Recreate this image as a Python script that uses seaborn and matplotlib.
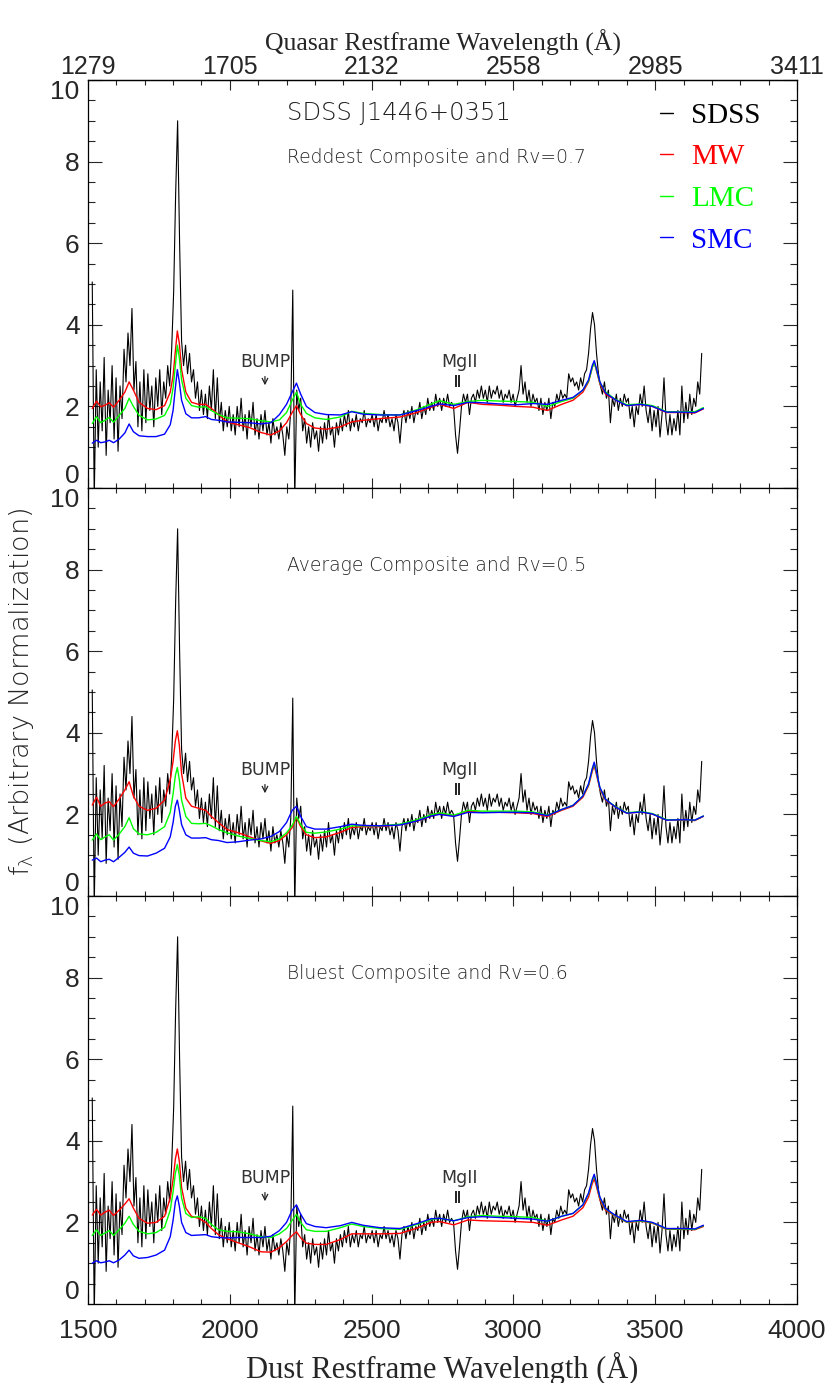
import numpy as np
import pandas as pd
import matplotlib
matplotlib.use("Agg")
import matplotlib.pyplot as plt
from matplotlib.lines import Line2D
from matplotlib.ticker import MultipleLocator
from matplotlib import font_manager
import seaborn as sns

# ---------------- data ----------------
X_TICKS = [1500, 2000, 2500, 3000, 3500, 4000]
TOP_TICK_LABELS = ["1279", "1705", "2132", "2558", "2985", "3411"]
Y_TICKS = [0, 2, 4, 6, 8, 10]

PANEL_TITLES = ["Reddest Composite and Rv=0.7",
                "Average Composite and Rv=0.5",
                "Bluest Composite and Rv=0.6"]
OBJECT_NAME = "SDSS J1446+0351"
LEGEND_LABELS = ["SDSS", "MW", "LMC", "SMC"]
LEGEND_COLORS = ["#000000", "#ff0000", "#00ff00", "#0000ff"]

# SDSS spectrum, sampled on a 7 A pixel grid starting at 1515 A (dust frame)
SDSS_START = 1515
SDSS_STEP = 7
SDSS_FLUX = [
    5.05, -0.3, 2.9, 1.0, 2.6, 1.4, 3.2, 0.8, 2.4, 1.6,
    3.0, 1.2, 2.7, 0.9, 2.5, 1.7, 3.4, 2.6, 3.8, 3.0,
    4.4, 2.4, 3.1, 1.5, 2.6, 1.4, 2.9, 1.6, 2.8, 1.9,
    2.5, 1.5, 2.7, 2.0, 2.9, 1.8, 2.6, 2.2, 3.0, 2.5,
    3.4, 4.8, 7.2, 9.0, 6.0, 3.6, 3.0, 3.5, 2.8, 3.3,
    2.6, 2.9, 2.2, 2.6, 1.9, 2.4, 1.8, 2.3, 1.7, 2.5,
    1.9, 2.9, 1.7, 2.7, 1.6, 2.1, 1.4, 1.9, 1.5, 2.0,
    1.4, 1.8, 1.3, 2.0, 1.5, 2.2, 1.4, 1.8, 1.2, 1.9,
    1.5, 2.1, 1.3, 1.7, 1.2, 1.8, 1.4, 1.9, 1.3, 1.6,
    1.1, 1.7, 1.3, 1.5, 1.2, 1.6, 1.3, 0.8, 1.5, 1.2,
    1.9, 4.85, -0.3, 2.4, 1.9, 2.2, 1.4, 1.7, 1.1, 1.5,
    1.0, 1.6, 1.2, 1.4, 0.9, 1.5, 1.1, 1.6, 1.2, 1.8,
    1.3, 1.5, 1.0, 1.6, 1.3, 1.7, 1.4, 1.8, 1.5, 1.9,
    1.4, 1.7, 1.5, 1.8, 1.4, 1.7, 1.6, 1.9, 1.5, 1.7,
    1.6, 1.8, 1.5, 1.8, 1.4, 1.7, 1.6, 1.9, 1.6, 1.8,
    1.5, 1.7, 1.4, 1.8, 1.6, 1.1, 1.7, 1.9, 1.6, 1.9,
    1.7, 2.0, 1.6, 1.9, 1.8, 2.1, 1.7, 2.0, 1.8, 2.2,
    1.9, 2.1, 1.9, 2.3, 2.0, 2.2, 1.9, 2.2, 2.0, 2.3,
    2.0, 2.1, 2.0, 1.3, 0.85, 1.4, 2.0, 2.3, 2.1, 2.3,
    1.8, 2.2, 2.3, 2.1, 2.4, 2.2, 2.5, 2.2, 2.4, 2.1,
    2.5, 2.2, 2.4, 2.3, 2.5, 2.2, 2.4, 2.1, 2.3, 2.2,
    2.4, 2.1, 2.3, 2.0, 2.2, 2.4, 3.0, 2.3, 2.6, 2.1,
    2.4, 2.0, 2.3, 2.1, 2.2, 1.9, 2.2, 1.8, 2.1, 1.9,
    2.2, 1.7, 2.1, 2.0, 2.3, 2.1, 2.4, 2.2, 2.3, 2.2,
    2.8, 2.6, 2.7, 2.5, 2.6, 2.4, 2.7, 2.5, 2.8, 2.9,
    3.3, 3.9, 4.3, 4.0, 3.3, 2.8, 2.5, 2.3, 2.6, 2.2,
    2.4, 1.6, 2.2, 2.0, 2.3, 1.9, 2.2, 2.0, 2.3, 2.1,
    2.2, 1.7, 2.0, 1.5, 2.0, 1.8, 2.3, 2.0, 2.5, 1.9,
    1.6, 2.0, 1.4, 1.9, 1.5, 2.0, 1.25, 1.8, 2.7, 1.7,
    1.3, 1.8, 1.3, 1.7, 1.4, 1.9, 1.3, 2.5, 1.6, 2.1,
    1.7, 2.3, 1.8, 2.2, 2.0, 2.6, 2.3, 3.3,
]

MODEL_WL = [1515, 1530, 1545, 1560, 1575, 1590, 1610, 1630, 1645, 1660,
            1680, 1710, 1740, 1770, 1790, 1800, 1808, 1815, 1822, 1830,
            1845, 1865, 1890, 1915, 1935, 1960, 1990, 2030, 2070, 2110,
            2145, 2175, 2200, 2220, 2235, 2250, 2270, 2300, 2340, 2390,
            2430, 2470, 2530, 2600, 2660, 2710, 2740, 2790, 2840, 2890,
            2950, 3010, 3070, 3120, 3170, 3210, 3245, 3265, 3278, 3285,
            3292, 3305, 3325, 3360, 3400, 3450, 3490, 3540, 3600, 3640, 3670]

MW_REDDEST = [1.95, 2.13, 1.99, 2.03, 2.09, 1.98, 2.15, 2.35, 2.6, 2.4,
              2.1, 1.95, 1.92, 2.02, 2.35, 2.75, 3.35, 3.85, 3.55, 2.9,
              2.35, 2.1, 2.05, 2.05, 1.95, 1.8, 1.62, 1.55, 1.48, 1.36,
              1.3, 1.4, 1.6, 1.85, 2.02, 1.8, 1.58, 1.47, 1.44, 1.5,
              1.62, 1.66, 1.7, 1.74, 1.85, 1.98, 2.05, 1.95, 2.1, 2.05,
              2.03, 2.0, 1.98, 1.9, 2.05, 2.15, 2.35, 2.6, 2.95, 3.08,
              2.9, 2.55, 2.3, 2.16, 2.02, 2.05, 2.0, 1.85, 1.85, 1.84, 1.94]
LMC_REDDEST = [1.58, 1.75, 1.6, 1.66, 1.73, 1.61, 1.78, 1.95, 2.2, 2.0,
               1.78, 1.67, 1.69, 1.78, 2.05, 2.45, 3.0, 3.5, 3.2, 2.65,
               2.2, 2.02, 1.98, 1.99, 1.9, 1.8, 1.72, 1.71, 1.7, 1.65,
               1.62, 1.67, 1.85, 2.15, 2.35, 2.05, 1.83, 1.72, 1.68, 1.74,
               1.88, 1.83, 1.8, 1.79, 1.92, 2.06, 2.14, 2.05, 2.12, 2.15,
               2.13, 2.12, 2.1, 2.0, 2.12, 2.2, 2.4, 2.62, 2.95, 3.08,
               2.92, 2.58, 2.35, 2.17, 2.04, 2.06, 2.02, 1.87, 1.87, 1.87, 1.97]
SMC_REDDEST = [1.1, 1.17, 1.11, 1.13, 1.17, 1.11, 1.2, 1.35, 1.57, 1.38,
               1.28, 1.26, 1.26, 1.32, 1.55, 1.9, 2.45, 2.9, 2.6, 2.15,
               1.82, 1.72, 1.72, 1.75, 1.68, 1.66, 1.62, 1.61, 1.6, 1.57,
               1.6, 1.8, 2.05, 2.35, 2.57, 2.3, 2.0, 1.85, 1.8, 1.79,
               1.87, 1.81, 1.79, 1.79, 1.9, 2.0, 2.06, 2.02, 2.1, 2.09,
               2.06, 2.04, 2.07, 2.05, 2.15, 2.22, 2.4, 2.65, 3.0, 3.12,
               2.95, 2.6, 2.33, 2.16, 2.02, 2.05, 2.0, 1.86, 1.86, 1.85, 1.95]

MW_AVERAGE = [2.23, 2.42, 2.2, 2.28, 2.31, 2.19, 2.38, 2.6, 2.8, 2.45,
              2.2, 2.1, 2.15, 2.35, 2.85, 3.3, 3.8, 4.05, 3.7, 3.0,
              2.4, 2.2, 2.15, 2.1, 1.95, 1.8, 1.63, 1.55, 1.45, 1.35,
              1.29, 1.36, 1.5, 1.68, 1.92, 1.7, 1.5, 1.43, 1.45, 1.56,
              1.68, 1.7, 1.7, 1.75, 1.84, 1.96, 2.02, 1.96, 2.08, 2.05,
              2.05, 2.04, 2.02, 1.95, 2.1, 2.2, 2.42, 2.7, 3.05, 3.2,
              3.0, 2.62, 2.35, 2.18, 2.03, 2.06, 2.01, 1.86, 1.86, 1.85, 1.95]
LMC_AVERAGE = [1.37, 1.52, 1.38, 1.45, 1.5, 1.37, 1.52, 1.7, 1.92, 1.65,
               1.52, 1.5, 1.56, 1.7, 2.05, 2.5, 2.95, 3.15, 2.85, 2.35,
               1.95, 1.78, 1.77, 1.78, 1.72, 1.63, 1.55, 1.47, 1.41, 1.36,
               1.33, 1.4, 1.55, 1.73, 1.95, 1.75, 1.56, 1.54, 1.57, 1.64,
               1.72, 1.72, 1.72, 1.76, 1.87, 1.99, 2.04, 1.98, 2.1, 2.08,
               2.08, 2.08, 2.06, 1.98, 2.12, 2.22, 2.45, 2.73, 3.1, 3.25,
               3.05, 2.65, 2.37, 2.19, 2.04, 2.07, 2.02, 1.87, 1.87, 1.86, 1.96]
SMC_AVERAGE = [0.88, 0.93, 0.84, 0.88, 0.9, 0.84, 0.95, 1.07, 1.2, 1.05,
               0.99, 0.98, 1.05, 1.17, 1.45, 1.8, 2.2, 2.35, 2.1, 1.75,
               1.5, 1.42, 1.42, 1.43, 1.38, 1.36, 1.31, 1.33, 1.37, 1.4,
               1.46, 1.58, 1.8, 2.1, 2.2, 1.95, 1.7, 1.64, 1.64, 1.7,
               1.76, 1.73, 1.72, 1.74, 1.84, 1.96, 2.0, 1.95, 2.05, 2.04,
               2.05, 2.05, 2.04, 1.97, 2.12, 2.22, 2.45, 2.75, 3.12, 3.28,
               3.07, 2.66, 2.37, 2.18, 2.03, 2.06, 2.01, 1.86, 1.87, 1.86, 1.96]

MW_BLUEST = [2.18, 2.32, 2.18, 2.25, 2.3, 2.17, 2.3, 2.45, 2.58, 2.35,
             2.1, 1.98, 2.0, 2.15, 2.6, 3.05, 3.55, 3.8, 3.5, 2.85,
             2.35, 2.15, 2.1, 2.0, 1.85, 1.7, 1.6, 1.5, 1.4, 1.28,
             1.27, 1.38, 1.53, 1.68, 1.77, 1.62, 1.49, 1.46, 1.46, 1.58,
             1.72, 1.72, 1.72, 1.73, 1.86, 2.0, 2.02, 1.94, 2.06, 2.04,
             2.03, 2.02, 2.0, 1.93, 2.06, 2.15, 2.36, 2.62, 2.95, 3.07,
             2.9, 2.55, 2.3, 2.15, 2.0, 2.03, 1.98, 1.83, 1.83, 1.82, 1.9]
LMC_BLUEST = [1.68, 1.82, 1.68, 1.74, 1.8, 1.68, 1.82, 1.98, 2.15, 1.95,
              1.78, 1.72, 1.75, 1.88, 2.3, 2.75, 3.2, 3.42, 3.15, 2.6,
              2.22, 2.12, 2.14, 2.1, 1.95, 1.82, 1.78, 1.77, 1.72, 1.65,
              1.63, 1.72, 1.85, 2.05, 2.2, 2.0, 1.82, 1.78, 1.78, 1.87,
              1.96, 1.9, 1.85, 1.83, 1.95, 2.07, 2.1, 2.04, 2.14, 2.17,
              2.15, 2.14, 2.12, 2.03, 2.15, 2.22, 2.43, 2.7, 3.02, 3.15,
              2.97, 2.6, 2.33, 2.16, 2.01, 2.04, 1.99, 1.84, 1.84, 1.83, 1.92]
SMC_BLUEST = [1.0, 1.06, 1.01, 1.03, 1.06, 1.01, 1.08, 1.2, 1.32, 1.18,
              1.12, 1.14, 1.2, 1.32, 1.65, 2.05, 2.5, 2.65, 2.4, 2.0,
              1.75, 1.68, 1.69, 1.7, 1.65, 1.63, 1.62, 1.63, 1.63, 1.63,
              1.66, 1.8, 2.0, 2.3, 2.43, 2.2, 1.97, 1.9, 1.87, 1.92,
              2.0, 1.93, 1.87, 1.85, 1.97, 2.09, 2.1, 2.04, 2.12, 2.14,
              2.12, 2.1, 2.08, 2.03, 2.15, 2.22, 2.43, 2.72, 3.05, 3.18,
              2.99, 2.62, 2.34, 2.17, 2.02, 2.05, 2.0, 1.85, 1.85, 1.84, 1.93]

PANEL_MODELS = [
    {"MW": MW_REDDEST, "LMC": LMC_REDDEST, "SMC": SMC_REDDEST},
    {"MW": MW_AVERAGE, "LMC": LMC_AVERAGE, "SMC": SMC_AVERAGE},
    {"MW": MW_BLUEST, "LMC": LMC_BLUEST, "SMC": SMC_BLUEST},
]
MODEL_COLORS = {"MW": "#ff0000", "LMC": "#00ff00", "SMC": "#0000ff"}

BUMP_WL = 2124
MGII_WL = [2799, 2807]

# ---------------- style ----------------
sns.set_style("ticks")
names = {f.name for f in font_manager.fontManager.ttflist}
def pick(cands, default):
    for c in cands:
        if c in names:
            return c
    return default
NARROW = pick(["Liberation Sans Narrow", "DejaVu Sans Condensed"], "Liberation Sans")
SERIF = pick(["Liberation Serif", "DejaVu Serif"], "DejaVu Serif")
SANS = "DejaVu Sans"
plt.rcParams["font.family"] = [SANS]
plt.rcParams["mathtext.default"] = "regular"
plt.rcParams["axes.linewidth"] = 0.9

W, H = 830, 1383
fig = plt.figure(figsize=(W / 100, H / 100), dpi=100)
left_px, right_px = 88, 797
tops = [80, 488, 896]
ph = 408

spec_df = pd.DataFrame({"wl": SDSS_START + SDSS_STEP * np.arange(len(SDSS_FLUX)),
                        "flux": SDSS_FLUX})

axes = []
for k, top in enumerate(tops):
    ax = fig.add_axes([left_px / W, 1 - (top + ph) / H,
                       (right_px - left_px) / W, ph / H])
    axes.append(ax)

    sns.lineplot(data=spec_df, x="wl", y="flux", ax=ax, color="black",
                 lw=0.8, estimator=None, sort=False, legend=False)
    mdl = PANEL_MODELS[k]
    for name in ["MW", "LMC", "SMC"]:
        mdf = pd.DataFrame({"wl": MODEL_WL, "flux": mdl[name]})
        sns.lineplot(data=mdf, x="wl", y="flux", ax=ax, color=MODEL_COLORS[name],
                     lw=1.0, estimator=None, sort=False, legend=False)

    ax.set_xlim(1500, 4000)
    ax.set_ylim(0, 10)
    ax.set_xlabel("")
    ax.set_ylabel("")
    ax.set_xticks(X_TICKS)
    ax.xaxis.set_minor_locator(MultipleLocator(100))
    ax.set_yticks(Y_TICKS)
    ax.set_yticklabels([str(v) for v in Y_TICKS])
    ax.yaxis.set_minor_locator(MultipleLocator(0.5))
    ax.tick_params(axis="x", which="major", direction="in", length=7, width=0.8,
                   top=True, bottom=True, labelbottom=(k == 2), labelsize=19, pad=11)
    ax.tick_params(axis="x", which="minor", direction="in", length=3.6, width=0.8,
                   top=True, bottom=True)
    ax.tick_params(axis="y", which="major", direction="in", length=10, width=0.8,
                   left=True, right=True, labelsize=19, pad=6)
    ax.tick_params(axis="y", which="minor", direction="in", length=5, width=0.8,
                   left=True, right=True)
    for lab in ax.get_xticklabels() + ax.get_yticklabels():
        lab.set_fontfamily(NARROW)
    yt = ax.yaxis.get_major_ticks()
    yt[0].label1.set_va("bottom")
    yt[-1].label1.set_va("top")
    for s in ax.spines.values():
        s.set_visible(True)
        s.set_color("black")

    # panel annotations
    ax.text(2202, 8.11, PANEL_TITLES[k], ha="left", va="center", fontsize=13.5,
            fontweight="light")
    ax.text(BUMP_WL, 3.1, "BUMP", ha="center", va="center", fontsize=12.5,
            color="#333333")
    ax.annotate("", xy=(BUMP_WL, 2.45), xytext=(BUMP_WL, 2.8),
                arrowprops=dict(arrowstyle="->", lw=0.9, color="#222222"))
    ax.text(2810, 3.1, "MgII", ha="center", va="center", fontsize=12.5,
            color="#333333")
    ax.vlines(MGII_WL, 2.48, 2.78, color="#222222", lw=1.4)

ax1 = axes[0]
ax1.tick_params(axis="x", which="both", top=False)
ax1.text(2202, 9.19, OBJECT_NAME, ha="left", va="center", fontsize=17.5,
         fontweight="light", color="#222222")

# top axis: quasar restframe
sec = ax1.secondary_xaxis("top")
sec.set_xticks(X_TICKS)
sec.set_xticklabels(TOP_TICK_LABELS)
sec.xaxis.set_minor_locator(MultipleLocator(100))
sec.tick_params(axis="x", which="major", direction="in", length=7, width=0.8,
                labelsize=18, pad=1)
sec.tick_params(axis="x", which="minor", direction="in", length=3.6, width=0.8)
for lab in sec.get_xticklabels():
    lab.set_fontfamily(NARROW)
sec.set_xlabel("Quasar Restframe Wavelength (Å)", fontsize=18.5, family=SERIF,
               labelpad=3)

# legend
handles = [Line2D([], [], color=c, lw=1.0) for c in LEGEND_COLORS]
ax1.legend(handles, LEGEND_LABELS, loc="upper right", bbox_to_anchor=(0.948, 0.945),
           frameon=False, handlelength=0.45, handletextpad=0.6, labelspacing=0.52,
           borderpad=0, borderaxespad=0, labelcolor=LEGEND_COLORS,
           prop={"family": SERIF, "size": 21})

axes[2].set_xlabel("Dust Restframe Wavelength (Å)", fontsize=22, family=SERIF,
                   labelpad=6)

fig.text(0.026, 0.4996, "f$_{\\lambda}$ (Arbitrary Normalization)", rotation=90,
         ha="center", va="center", fontsize=19.5, fontweight="light")

fig.savefig("out.png", dpi=100)
